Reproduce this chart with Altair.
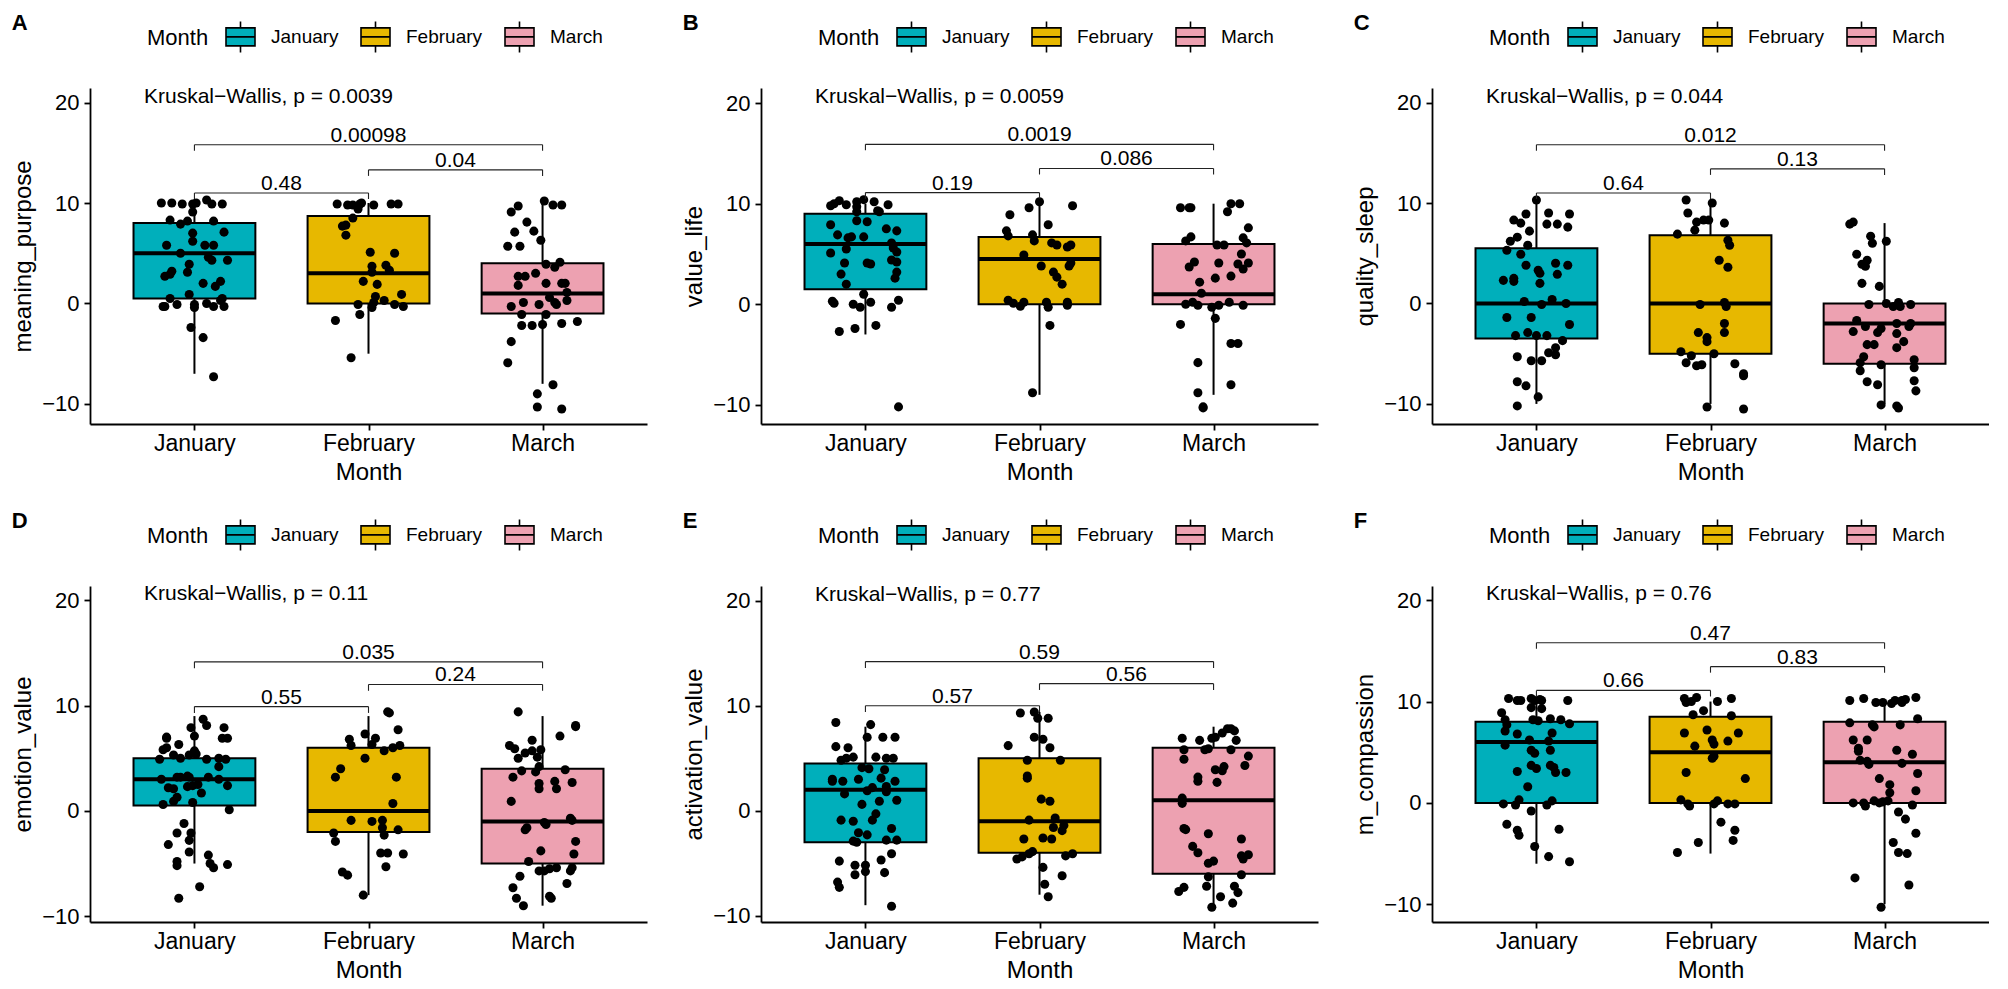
import altair as alt
import pandas as pd

MONTHS = ["January", "February", "March"]
COLORS = ["#00AFBB", "#E7B800", "#EDA1B1"]
FONT = "Liberation Sans"

# ---------------- Panel A : meaning_purpose ----------------
a_jan = [(-0.19,10.0),(-0.13,10.0),(-0.07,9.9),(-0.01,9.9),(0.01,10.0),(0.07,10.3),(0.10,9.9),(0.16,9.9),(-0.01,9.1),(-0.14,8.3),(-0.08,7.9),(-0.04,8.2),(0.11,8.2),(-0.01,7.0),(0.17,7.1),(-0.16,5.8),(-0.01,6.2),(0.06,5.8),(0.11,5.8),(-0.08,5.0),(0.08,4.6),(0.19,4.3),(0.10,4.3),(-0.03,3.9),(-0.13,3.2),(-0.04,3.1),(-0.17,2.7),(-0.14,2.9),(0.05,2.0),(0.15,2.2),(0.12,1.7),(-0.03,0.9),(-0.14,0.5),(0.16,0.5),(0.15,0.3),(-0.18,-0.3),(-0.17,-0.3),(-0.10,-0.1),(0.00,-0.1),(0.00,-0.4),(0.07,0.0),(0.11,-0.3),(0.17,-0.3),(-0.02,-2.4),(0.05,-3.4),(0.11,-7.3)]
a_feb = [(-0.18,9.9),(-0.12,9.8),(-0.09,9.8),(-0.05,9.9),(-0.04,10.0),(0.03,9.8),(0.13,9.9),(0.17,9.9),(-0.06,9.4),(-0.09,8.5),(-0.15,7.7),(-0.13,7.8),(-0.13,6.8),(0.01,5.1),(0.15,5.0),(0.02,3.7),(0.10,3.8),(0.02,3.1),(0.12,3.3),(-0.03,2.2),(0.05,1.9),(0.19,0.9),(0.04,0.7),(-0.06,-0.1),(0.02,-0.4),(0.09,0.3),(0.15,-0.1),(0.20,-0.3),(0.03,0.1),(-0.05,-1.1),(-0.19,-1.7),(-0.10,-5.4)]
a_mar = [(0.01,10.2),(0.06,9.8),(0.11,9.8),(-0.14,9.7),(-0.18,9.1),(-0.09,8.1),(-0.16,7.1),(-0.05,7.2),(-0.20,5.7),(-0.13,5.7),(-0.01,6.3),(0.02,3.9),(0.07,3.6),(0.10,4.1),(-0.14,2.7),(-0.10,2.7),(-0.04,3.0),(-0.14,1.8),(0.02,2.0),(0.11,2.0),(0.13,2.0),(0.14,1.1),(-0.18,-0.3),(-0.11,0.1),(-0.02,-0.1),(0.04,0.6),(0.07,0.1),(0.08,-0.1),(0.14,0.3),(-0.12,-1.1),(0.02,-1.1),(-0.12,-2.2),(-0.06,-2.2),(0.00,-2.1),(0.11,-2.0),(0.20,-1.8),(-0.18,-3.8),(-0.20,-5.9),(0.06,-8.1),(-0.03,-9.0),(-0.03,-10.3),(0.11,-10.5)]
a_q1 = [0.5, 0.0, -1.0]; a_med = [5.0, 3.0, 1.0]; a_q3 = [8.0, 8.7, 4.0]
a_lo = [-7.0, -5.0, -8.0]; a_hi = [10.0, 10.0, 10.0]
a_br_y = [11.0, 13.3, 15.8]; a_br_lab = ["0.48", "0.04", "0.00098"]

# ---------------- Panel B : value_life ----------------
b_jan = [(-0.20,9.8),(-0.18,10.0),(-0.15,10.3),(-0.11,9.9),(-0.05,10.2),(-0.05,9.7),(-0.01,10.4),(0.05,10.2),(0.07,9.3),(0.08,9.2),(0.13,9.9),(-0.05,9.2),(-0.20,7.9),(-0.05,8.3),(0.01,8.2),(-0.16,6.9),(-0.10,6.6),(-0.08,6.7),(-0.01,6.7),(0.12,7.5),(0.18,7.3),(0.15,6.1),(0.16,5.6),(-0.20,5.1),(-0.11,5.5),(0.18,5.2),(-0.12,4.1),(0.01,4.1),(0.03,4.0),(0.15,4.4),(0.18,4.2),(-0.14,3.0),(0.18,3.2),(0.17,2.6),(-0.11,2.0),(-0.01,1.0),(-0.19,0.3),(-0.18,0.1),(-0.07,0.0),(-0.03,-0.3),(0.03,0.2),(0.15,-0.3),(0.19,0.4),(-0.15,-2.7),(-0.06,-2.4),(0.06,-2.1),(0.19,-10.2)]
b_feb = [(0.00,10.2),(-0.06,9.6),(0.19,9.8),(-0.17,8.9),(0.05,7.9),(-0.19,7.3),(-0.18,6.8),(-0.04,6.9),(-0.03,6.3),(0.07,6.1),(0.10,5.9),(0.16,5.7),(0.18,5.9),(-0.09,4.9),(0.01,3.8),(0.18,4.1),(0.17,3.8),(0.08,3.2),(0.10,2.7),(0.13,2.0),(-0.18,0.4),(-0.15,0.1),(-0.11,-0.2),(-0.09,0.2),(0.04,0.2),(0.05,-0.3),(0.16,0.2),(0.16,-0.1),(0.06,-2.1),(-0.04,-8.8)]
b_mar = [(-0.19,9.6),(-0.14,9.6),(-0.13,9.6),(0.10,10.0),(0.15,10.0),(0.08,9.2),(0.20,7.6),(-0.13,6.7),(-0.16,6.3),(0.17,6.6),(0.19,6.1),(0.02,5.9),(0.06,5.9),(0.16,5.0),(-0.11,4.2),(-0.14,3.7),(0.03,4.1),(0.14,4.0),(0.17,3.5),(0.20,4.1),(-0.08,2.2),(0.01,2.6),(0.10,2.8),(-0.07,1.1),(-0.16,0.0),(-0.12,0.2),(-0.09,-0.1),(-0.01,-0.3),(0.03,-0.1),(0.09,0.2),(0.17,-0.1),(0.01,-1.4),(-0.19,-2.0),(0.10,-3.9),(0.14,-3.9),(-0.09,-5.8),(-0.09,-8.8),(0.10,-8.0),(-0.06,-10.2),(-0.06,-10.3)]
b_q1 = [1.5, 0.0, 0.0]; b_med = [6.0, 4.5, 1.0]; b_q3 = [9.0, 6.7, 6.0]
b_lo = [-3.0, -9.0, -9.0]; b_hi = [10.0, 10.0, 10.0]
b_br_y = [11.1, 13.5, 15.9]; b_br_lab = ["0.19", "0.086", "0.0019"]

# ---------------- Panel C : quality_sleep ----------------
c_jan = [(0.00,10.3),(-0.13,8.3),(-0.09,8.0),(-0.06,8.9),(0.07,9.0),(0.19,8.9),(0.06,7.9),(0.12,7.9),(0.18,7.6),(-0.04,7.2),(-0.11,6.6),(-0.15,6.2),(-0.05,5.8),(-0.17,5.3),(-0.09,4.9),(-0.06,3.8),(0.01,3.3),(0.02,3.0),(0.11,4.0),(0.18,3.8),(0.12,2.9),(-0.19,2.3),(-0.13,2.5),(-0.13,2.2),(0.02,2.0),(-0.07,0.2),(0.03,-0.1),(0.09,0.4),(0.17,0.0),(-0.17,-1.4),(-0.03,-1.4),(0.19,-2.1),(-0.12,-3.2),(-0.05,-2.9),(0.00,-3.2),(0.06,-3.2),(0.15,-3.7),(0.11,-4.4),(-0.11,-5.3),(-0.03,-5.7),(0.03,-5.7),(0.07,-4.9),(0.11,-5.1),(-0.11,-7.8),(-0.06,-8.2),(0.01,-9.3),(-0.11,-10.2)]
c_feb = [(-0.14,10.3),(0.01,10.0),(-0.13,9.0),(-0.08,8.1),(-0.04,8.3),(-0.01,8.3),(0.08,8.0),(-0.09,7.3),(-0.19,6.9),(0.10,6.3),(0.11,5.8),(0.05,4.3),(0.10,3.6),(-0.06,-0.1),(0.08,0.1),(0.09,-0.3),(0.08,-2.0),(-0.07,-2.9),(0.08,-2.9),(-0.02,-3.4),(-0.02,-3.8),(-0.17,-4.8),(-0.11,-5.2),(0.02,-5.0),(-0.14,-5.9),(-0.08,-6.2),(-0.05,-6.1),(0.14,-6.0),(0.19,-7.0),(0.19,-7.2),(-0.02,-10.3),(0.19,-10.5)]
c_mar = [(-0.20,7.9),(-0.18,8.1),(-0.08,6.7),(-0.07,6.0),(0.01,6.2),(-0.16,4.9),(-0.13,3.9),(-0.11,3.7),(-0.10,4.3),(-0.13,2.0),(-0.03,1.7),(-0.09,-0.1),(0.01,0.0),(0.05,-0.3),(0.08,0.1),(0.09,-0.3),(0.15,-0.1),(-0.16,-1.7),(-0.18,-2.8),(-0.11,-2.3),(-0.04,-2.9),(-0.02,-2.5),(0.07,-2.0),(0.07,-3.0),(0.15,-2.0),(0.14,-2.3),(-0.10,-4.1),(-0.06,-4.1),(0.07,-4.4),(0.11,-3.8),(-0.12,-5.3),(-0.14,-5.9),(-0.14,-6.7),(-0.02,-6.1),(0.17,-5.6),(0.17,-6.4),(-0.10,-7.8),(-0.04,-8.1),(0.17,-7.7),(0.18,-8.7),(-0.02,-10.1),(0.07,-10.2),(0.08,-10.4)]
c_q1 = [-3.5, -5.0, -6.0]; c_med = [0.0, 0.0, -2.0]; c_q3 = [5.5, 6.8, 0.0]
c_lo = [-10.0, -10.0, -10.0]; c_hi = [10.0, 10.0, 8.0]
c_br_y = [11.0, 13.4, 15.8]; c_br_lab = ["0.64", "0.13", "0.012"]

# ---------------- Panel D : emotion_value ----------------
d_jan = [(0.05,8.7),(0.07,8.1),(-0.02,7.9),(0.17,7.9),(-0.16,7.0),(-0.16,6.9),(0.00,7.1),(0.16,6.9),(0.19,6.9),(-0.09,6.3),(-0.18,5.8),(-0.16,6.0),(0.00,5.7),(0.01,5.4),(-0.12,5.3),(-0.08,5.0),(-0.03,5.3),(-0.20,4.9),(0.07,4.9),(0.14,5.0),(0.18,4.9),(0.14,4.2),(-0.19,3.0),(-0.10,3.2),(-0.08,3.2),(-0.04,3.3),(-0.03,3.2),(0.08,3.2),(0.14,3.0),(-0.15,2.2),(-0.12,2.1),(-0.04,2.3),(-0.01,2.4),(0.02,2.5),(0.04,1.7),(0.19,2.4),(-0.10,1.3),(-0.12,0.9),(-0.18,0.6),(-0.01,0.8),(0.20,0.1),(-0.06,-1.2),(-0.10,-2.1),(-0.02,-2.1),(-0.03,-2.8),(-0.15,-3.2),(-0.03,-3.9),(0.08,-4.2),(-0.10,-4.8),(-0.10,-5.2),(0.09,-5.0),(0.11,-5.4),(0.19,-5.1),(0.03,-7.2),(-0.09,-8.3)]
d_feb = [(0.11,9.4),(0.12,9.3),(0.17,7.7),(-0.02,7.3),(0.04,6.9),(-0.11,6.8),(-0.10,6.2),(0.02,6.3),(0.09,5.7),(0.14,6.0),(0.18,6.2),(-0.02,5.0),(-0.16,4.0),(-0.19,3.2),(0.16,3.2),(0.14,0.7),(-0.10,-0.9),(0.02,-1.0),(0.08,-0.9),(0.08,-1.6),(0.17,-1.8),(-0.20,-2.1),(-0.19,-2.9),(0.09,-2.3),(0.07,-4.0),(0.11,-4.0),(0.20,-4.1),(0.10,-5.3),(-0.15,-5.8),(-0.12,-6.1),(-0.03,-8.0)]
d_mar = [(-0.14,9.4),(0.19,8.0),(0.19,8.1),(0.10,7.1),(-0.06,6.7),(-0.19,6.2),(-0.16,5.9),(-0.10,5.5),(-0.06,5.7),(-0.01,5.8),(-0.03,5.1),(-0.14,5.0),(-0.02,4.2),(-0.04,3.7),(-0.12,3.8),(0.13,3.9),(-0.17,3.2),(-0.02,2.6),(-0.02,2.1),(0.07,2.8),(0.08,2.1),(0.17,2.7),(-0.18,0.9),(0.01,-1.1),(0.02,-1.3),(-0.10,-1.8),(-0.09,-1.6),(0.16,-0.7),(0.17,-0.9),(0.19,-2.9),(-0.01,-3.8),(0.18,-4.1),(-0.08,-4.8),(-0.02,-5.7),(0.01,-5.7),(0.04,-5.5),(0.08,-5.4),(0.16,-5.7),(0.17,-5.4),(-0.13,-6.2),(0.14,-6.9),(-0.17,-7.3),(0.04,-8.1),(0.05,-8.3),(-0.15,-8.3),(-0.11,-9.0)]
d_q1 = [0.5, -2.0, -5.0]; d_med = [3.0, 0.0, -1.0]; d_q3 = [5.0, 6.0, 4.0]
d_lo = [-5.0, -8.0, -9.0]; d_hi = [9.0, 9.0, 9.0]
d_br_y = [9.9, 12.0, 14.15]; d_br_lab = ["0.55", "0.24", "0.035"]

# ---------------- Panel E : activation_value ----------------
e_jan = [(-0.17,8.4),(0.03,8.2),(0.01,7.0),(0.10,7.0),(0.17,7.0),(-0.17,6.1),(-0.10,6.0),(-0.14,4.8),(-0.11,5.0),(-0.07,5.1),(0.06,5.1),(0.12,5.0),(0.16,5.0),(-0.02,4.1),(0.02,4.0),(0.11,3.9),(-0.19,3.0),(-0.19,2.8),(-0.13,2.8),(-0.04,3.0),(0.09,3.1),(0.17,2.8),(0.04,2.2),(0.12,2.3),(0.01,1.9),(0.12,1.8),(-0.12,1.6),(0.18,1.0),(0.08,0.9),(-0.02,0.6),(0.06,-0.3),(0.04,-0.9),(-0.14,-0.9),(-0.07,-1.0),(-0.04,-2.1),(0.01,-2.3),(0.15,-1.7),(-0.07,-2.9),(-0.05,-3.0),(0.12,-2.8),(0.18,-2.8),(0.15,-4.1),(-0.15,-4.8),(0.09,-4.7),(-0.06,-5.2),(0.00,-5.2),(-0.06,-6.1),(0.00,-5.8),(0.11,-5.9),(-0.16,-6.8),(-0.15,-7.3),(0.15,-9.1)]
e_feb = [(-0.11,9.3),(-0.03,9.4),(-0.01,8.8),(0.05,8.8),(-0.03,7.0),(0.02,6.8),(-0.18,6.2),(0.06,6.0),(-0.07,4.8),(0.12,4.8),(-0.07,3.3),(-0.07,3.1),(0.01,1.1),(0.06,0.9),(-0.06,-0.9),(0.09,-0.7),(0.08,-1.6),(0.14,-1.4),(0.13,-1.9),(-0.09,-2.7),(0.02,-2.6),(0.07,-2.7),(-0.04,-3.9),(-0.06,-4.1),(-0.13,-4.6),(-0.10,-4.4),(0.15,-4.3),(0.19,-4.1),(0.02,-5.4),(0.13,-6.2),(0.03,-7.0),(0.05,-8.2)]
e_mar = [(0.08,7.8),(0.10,7.8),(0.05,7.4),(0.12,7.6),(0.13,6.7),(-0.18,6.9),(-0.08,6.7),(-0.01,6.9),(0.01,7.0),(-0.17,5.8),(-0.05,5.8),(-0.03,5.9),(0.10,5.8),(-0.17,4.9),(0.20,5.2),(0.18,4.3),(0.01,3.9),(0.06,4.2),(0.05,3.8),(-0.09,3.2),(-0.09,2.8),(0.02,2.7),(-0.18,1.2),(-0.18,0.7),(-0.17,-1.7),(-0.16,-1.8),(-0.03,-2.2),(0.16,-2.7),(-0.12,-3.4),(-0.09,-4.0),(0.16,-4.3),(0.17,-4.6),(0.20,-4.2),(-0.03,-5.0),(0.00,-4.8),(0.16,-6.1),(-0.03,-6.3),(-0.04,-7.2),(-0.20,-7.7),(-0.17,-7.3),(0.12,-7.2),(0.14,-7.8),(0.04,-8.2),(0.11,-8.8),(-0.01,-9.2)]
e_q1 = [-3.0, -4.0, -6.0]; e_med = [2.0, -1.0, 1.0]; e_q3 = [4.5, 5.0, 6.0]
e_lo = [-9.0, -8.0, -9.0]; e_hi = [8.0, 9.4, 8.0]
e_br_y = [10.0, 12.1, 14.2]; e_br_lab = ["0.57", "0.56", "0.59"]

# ---------------- Panel F : m_compassion ----------------
f_jan = [(-0.16,10.3),(-0.11,10.1),(-0.09,10.1),(-0.03,10.3),(-0.01,10.1),(0.02,10.2),(0.03,10.1),(-0.03,9.4),(0.03,9.3),(0.18,10.1),(-0.20,8.9),(-0.18,8.2),(-0.17,7.7),(-0.02,8.2),(0.01,8.1),(0.08,8.3),(0.14,8.2),(0.19,7.8),(-0.18,7.1),(-0.11,6.8),(0.09,6.9),(-0.18,5.7),(-0.04,6.2),(-0.03,5.2),(0.07,6.1),(0.08,5.2),(-0.01,4.9),(-0.03,3.7),(0.00,3.4),(0.08,3.7),(0.10,3.5),(-0.11,3.1),(0.11,3.0),(0.17,3.0),(-0.05,1.6),(-0.19,-0.1),(-0.12,-0.2),(-0.10,0.3),(0.09,0.2),(0.06,-0.2),(-0.03,-0.8),(-0.17,-2.1),(-0.11,-2.7),(-0.10,-3.2),(0.13,-2.6),(-0.01,-4.3),(0.07,-5.3),(0.19,-5.8)]
f_feb = [(-0.15,10.3),(-0.14,9.9),(-0.08,10.4),(-0.11,10.0),(0.04,10.0),(0.12,10.3),(-0.04,9.1),(-0.10,8.7),(0.12,8.6),(-0.15,6.9),(-0.02,7.2),(0.16,6.9),(0.01,6.2),(0.02,5.8),(0.10,6.1),(-0.09,5.6),(0.01,4.4),(0.02,4.6),(-0.14,3.0),(0.20,2.4),(-0.17,0.3),(-0.12,-0.3),(-0.13,-0.1),(0.02,-0.1),(0.04,0.2),(0.10,-0.1),(0.14,-0.1),(0.06,-1.9),(0.14,-2.7),(0.13,-3.7),(-0.07,-3.9),(-0.19,-4.9)]
f_mar = [(-0.20,10.1),(-0.12,10.3),(-0.05,9.9),(-0.01,9.9),(0.04,9.8),(0.10,9.9),(0.12,10.2),(0.18,10.4),(0.06,10.1),(0.10,10.1),(-0.20,7.9),(-0.06,7.5),(-0.07,7.7),(0.09,7.7),(0.19,8.3),(-0.18,6.2),(-0.10,6.2),(-0.15,5.1),(-0.15,5.4),(0.07,5.2),(-0.14,4.2),(-0.09,3.8),(-0.10,4.1),(0.10,3.9),(0.16,4.8),(0.19,2.9),(-0.03,2.4),(0.03,1.8),(0.03,1.0),(0.18,1.2),(-0.18,0.0),(-0.12,0.0),(-0.11,-0.3),(-0.06,0.2),(-0.03,0.0),(-0.01,0.1),(0.02,0.2),(0.16,-0.2),(0.08,-0.9),(0.12,-1.6),(0.18,-3.0),(0.05,-3.9),(0.08,-4.9),(0.13,-5.0),(-0.17,-7.4),(0.14,-8.1),(-0.02,-10.3)]
f_q1 = [0.0, 0.0, 0.0]; f_med = [6.0, 5.0, 4.0]; f_q3 = [8.0, 8.5, 8.0]
f_lo = [-6.0, -5.0, -10.0]; f_hi = [10.0, 10.0, 10.0]
f_br_y = [11.1, 13.45, 15.8]; f_br_lab = ["0.66", "0.83", "0.47"]

# comparison pairs (group indices) and Kruskal-Wallis p values
PAIR_G1 = [1, 2, 1]
PAIR_G2 = [2, 3, 3]
KW_P = {"A": "0.0039", "B": "0.0059", "C": "0.044", "D": "0.11", "E": "0.77", "F": "0.76"}
Y_TITLES = {"A": "meaning_purpose", "B": "value_life", "C": "quality_sleep",
            "D": "emotion_value", "E": "activation_value", "F": "m_compassion"}
Y_DOMAINS = {"A": [-12.0, 21.45], "B": [-11.9, 21.5], "C": [-12.0, 21.45],
             "D": [-10.55, 21.35], "E": [-10.6, 21.4], "F": [-11.75, 21.4]}

# ---------------- styling ----------------
W, H = 557, 336
BOX_HALF = 0.35
TIP = 0.6
LEGEND_PATH = "M-1,-0.62H1V0.62H-1Z M-1,0H1 M0,-0.62V-1.07 M0,0.62V1.07"


def make_panel(letter, pts, q1, med, q3, lo, hi, br_y, br_lab):
    box_df = pd.DataFrame({"month": MONTHS, "idx": [1, 2, 3], "q1": q1, "med": med,
                           "q3": q3, "lo": lo, "hi": hi})
    rows = []
    for i, (m, lst) in enumerate(zip(MONTHS, pts)):
        for dx, y in lst:
            rows.append({"month": m, "idx": i + 1, "dx": dx, "y": y})
    pts_df = pd.DataFrame(rows)
    br_df = pd.DataFrame({"g1": PAIR_G1, "g2": PAIR_G2, "yb": br_y, "label": br_lab})
    kw_df = pd.DataFrame({"label": ["Kruskal\u2212Wallis, p = " + KW_P[letter]]})

    xs = alt.Scale(domain=[0.4, 3.6], nice=False, zero=False)
    ys = alt.Scale(domain=Y_DOMAINS[letter], nice=False, zero=False)
    xaxis = alt.Axis(values=[1, 2, 3], title="Month", labelFlush=False,
                     labelExpr="datum.value == 1 ? 'January' : datum.value == 2 ? 'February' : 'March'")
    yaxis = alt.Axis(values=[-10, 0, 10, 20], title=Y_TITLES[letter], labelFlush=False)

    def X(f):
        return alt.X(f, type="quantitative", scale=xs, axis=xaxis)

    def Y(f):
        return alt.Y(f, type="quantitative", scale=ys, axis=yaxis)

    base = alt.Chart(box_df)
    whisk = base.mark_rule(color="black", strokeWidth=2).encode(x=X("idx"), y=Y("lo"), y2="hi:Q")
    box = base.transform_calculate(
        xl="datum.idx - %g" % BOX_HALF, xr="datum.idx + %g" % BOX_HALF
    ).mark_bar(stroke="black", strokeWidth=2, opacity=1).encode(
        x=X("xl"), x2="xr:Q", y=Y("q1"), y2="q3:Q",
        fill=alt.Fill("month:N", scale=alt.Scale(domain=MONTHS, range=COLORS),
                      legend=alt.Legend(title="Month", orient="none", legendX=57, legendY=-67,
                                        direction="horizontal", titleOrient="left",
                                        titleAnchor="middle", titleBaseline="middle",
                                        symbolType=LEGEND_PATH, symbolSize=841,
                                        symbolStrokeColor="black", symbolStrokeWidth=1.6,
                                        symbolOpacity=1, labelFontSize=19, titleFontSize=22,
                                        titleFontWeight="normal", labelColor="black",
                                        titleColor="black", labelOffset=15, columnPadding=18,
                                        titlePadding=16, padding=0, labelFont=FONT, titleFont=FONT)))
    median = base.transform_calculate(
        xl="datum.idx - %g" % BOX_HALF, xr="datum.idx + %g" % BOX_HALF
    ).mark_rule(color="black", strokeWidth=4).encode(x=X("xl"), x2="xr:Q", y=Y("med"))
    points = alt.Chart(pts_df).transform_calculate(px="datum.idx + datum.dx").mark_circle(
        size=82, color="black", opacity=1).encode(x=X("px"), y=Y("y"))
    brb = alt.Chart(br_df)
    hline = brb.mark_rule(color="#222222", strokeWidth=1.1).encode(x=X("g1"), x2="g2:Q", y=Y("yb"))
    ltip = brb.transform_calculate(yt="datum.yb - %g" % TIP).mark_rule(
        color="#222222", strokeWidth=1.1).encode(x=X("g1"), y=Y("yb"), y2="yt:Q")
    rtip = brb.transform_calculate(yt="datum.yb - %g" % TIP).mark_rule(
        color="#222222", strokeWidth=1.1).encode(x=X("g2"), y=Y("yb"), y2="yt:Q")
    blab = brb.transform_calculate(xm="(datum.g1 + datum.g2) / 2").mark_text(
        font=FONT, fontSize=21, baseline="alphabetic", align="center", dy=-3, color="black"
    ).encode(x=X("xm"), y=Y("yb"), text="label:N")
    kw = alt.Chart(kw_df).mark_text(font=FONT, fontSize=21, baseline="alphabetic", align="left",
                                    color="black").encode(
        x=alt.XDatum(0.71, type="quantitative", scale=xs, axis=xaxis),
        y=alt.YDatum(20, type="quantitative", scale=ys, axis=yaxis),
        text="label:N")

    return alt.layer(whisk, box, median, points, hline, ltip, rtip, blab, kw).properties(
        width=W, height=H,
        title=alt.TitleParams(letter, anchor="start", fontSize=22, fontWeight="bold",
                              font=FONT, offset=-14, color="black"))


panels = [
    make_panel("A", [a_jan, a_feb, a_mar], a_q1, a_med, a_q3, a_lo, a_hi, a_br_y, a_br_lab),
    make_panel("B", [b_jan, b_feb, b_mar], b_q1, b_med, b_q3, b_lo, b_hi, b_br_y, b_br_lab),
    make_panel("C", [c_jan, c_feb, c_mar], c_q1, c_med, c_q3, c_lo, c_hi, c_br_y, c_br_lab),
    make_panel("D", [d_jan, d_feb, d_mar], d_q1, d_med, d_q3, d_lo, d_hi, d_br_y, d_br_lab),
    make_panel("E", [e_jan, e_feb, e_mar], e_q1, e_med, e_q3, e_lo, e_hi, e_br_y, e_br_lab),
    make_panel("F", [f_jan, f_feb, f_mar], f_q1, f_med, f_q3, f_lo, f_hi, f_br_y, f_br_lab),
]

chart = alt.concat(*panels, columns=3, spacing={"row": 26, "column": 35}).resolve_scale(
    fill="independent", x="independent", y="independent"
).resolve_legend(fill="independent").properties(
    padding={"top": 4, "left": 3, "right": 0, "bottom": 0}
).configure(
    font=FONT
).configure_view(stroke=None).configure_axis(
    grid=False, domainColor="black", domainWidth=1.8, tickColor="black", tickWidth=1.8,
    tickSize=6, labelColor="black", titleColor="black", labelFont=FONT, titleFont=FONT,
    labelFontSize=22, titleFontSize=24, titleFontWeight="normal"
).configure_axisX(labelFontSize=23, labelPadding=2, titlePadding=5
).configure_axisY(labelPadding=5, titlePadding=6)

chart.save("out.html", embed_options={"renderer": "svg", "actions": False})
